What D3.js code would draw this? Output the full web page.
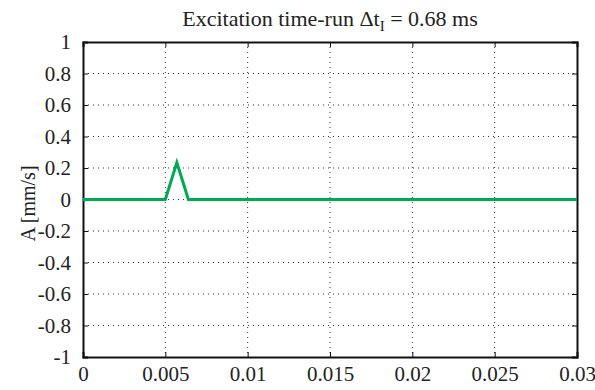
<!DOCTYPE html>
<html>
<head>
<meta charset="utf-8">
<script src="https://cdn.jsdelivr.net/npm/d3@7"></script>
<style>
  body { margin: 0; background: #fff; }
  svg text { font-family: "Liberation Serif", "Times New Roman", serif !important; fill: #222; }
</style>
</head>
<body>
<div id="chart"></div>
<script>
// signal samples (time in s, amplitude in mm/s)
var timeVals = [0, 0.005, 0.0057, 0.0064, 0.03];
var ampVals = [0, 0, 0.235, 0, 0];
var xTicks = [0, 0.005, 0.01, 0.015, 0.02, 0.025, 0.03];
var yTicks = [-1, -0.8, -0.6, -0.4, -0.2, 0, 0.2, 0.4, 0.6, 0.8, 1];

var data = timeVals.map(function(t, i) { return {t: t, a: ampVals[i]}; });

const margin = {top: 42, right: 18, bottom: 33, left: 83},
  width = 595 - margin.left - margin.right,
  height = 390 - margin.top - margin.bottom;

const svg = d3.select("#chart").append("svg")
  .attr("width", 595).attr("height", 390);
const g = svg.append("g").attr("transform", `translate(${margin.left},${margin.top})`);

const x = d3.scaleLinear().domain([0, 0.03]).range([0, width]);
const y = d3.scaleLinear().domain([-1, 1]).range([height, 0]);

// dotted grid
g.append("g").selectAll("line").data(xTicks.slice(1, -1)).join("line")
  .attr("x1", d => x(d)).attr("x2", d => x(d)).attr("y1", 0).attr("y2", height)
  .attr("stroke", "#333").attr("stroke-width", 1).attr("stroke-dasharray", "1,4");
g.append("g").selectAll("line").data(yTicks.slice(1, -1)).join("line")
  .attr("y1", d => y(d)).attr("y2", d => y(d)).attr("x1", 0).attr("x2", width)
  .attr("stroke", "#333").attr("stroke-width", 1).attr("stroke-dasharray", "1,4");

// axes (ticks inside)
const fmt = d => d === 0 ? "0" : String(+d.toFixed(3));
const xAxis = g.append("g").attr("transform", `translate(0,${height})`)
  .call(d3.axisBottom(x).tickValues(xTicks).tickSize(-5).tickPadding(9).tickFormat(fmt));
const yAxis = g.append("g")
  .call(d3.axisLeft(y).tickValues(yTicks).tickSize(-5).tickPadding(12).tickFormat(fmt));
g.append("g").call(d3.axisTop(x).tickValues(xTicks).tickSize(-5).tickFormat(""));
g.append("g").attr("transform", `translate(${width},0)`)
  .call(d3.axisRight(y).tickValues(yTicks).tickSize(-5).tickFormat(""));

g.selectAll(".domain").attr("stroke", "#111").attr("stroke-width", 2);
g.selectAll(".tick line").attr("stroke", "#111");
g.selectAll("g").attr("font-family", "Liberation Serif");
xAxis.selectAll("text").style("font-size", "21px").attr("fill", "#222");
yAxis.selectAll("text").style("font-size", "21px").attr("fill", "#222");

// signal line
g.append("path").datum(data)
  .attr("fill", "none").attr("stroke", "#00aa50").attr("stroke-width", 3)
  .attr("d", d3.line().x(d => x(d.t)).y(d => y(d.a)));

// title
const title = svg.append("text").attr("x", margin.left + width / 2).attr("y", 26)
  .attr("text-anchor", "middle").style("font-size", "22px");
title.append("tspan").text("Excitation time-run \u0394t");
title.append("tspan").attr("dy", 5).style("font-size", "15px").text("I");
title.append("tspan").attr("dy", -5).text(" = 0.68 ms");

// y label
svg.append("text").attr("transform", `translate(35,${margin.top + height / 2 + 4}) rotate(-90)`)
  .attr("text-anchor", "middle").style("font-size", "20px").text("A [mm/s]");
</script>
</body>
</html>
